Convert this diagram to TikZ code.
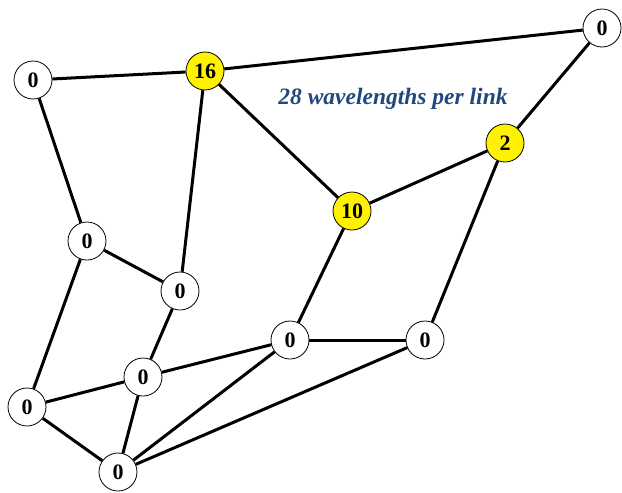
\documentclass[tikz,border=0pt]{standalone}
\usepackage{fontspec}
\setmainfont{Liberation Serif}
\definecolor{labelblue}{RGB}{31,73,125}
\begin{document}
\begin{tikzpicture}[x=1pt,y=-1pt,
  nd/.style={circle,draw=black,line width=0.8pt,fill=white,minimum size=38pt,inner sep=0pt,font=\fontsize{22}{22}\selectfont\bfseries},
  hot/.style={nd,fill=yellow},
  lk/.style={line width=3pt,black},
  lbl/.style={text=labelblue,font=\fontsize{23.5}{24}\selectfont\bfseries\itshape}]
\useasboundingbox (0,0) rectangle (622,493);
\node[nd]  (A) at (33,80) {0};
\node[hot] (B) at (205,71) {16};
\node[nd]  (C) at (602,28) {0};
\node[hot] (D) at (505,143) {2};
\node[hot] (E) at (352,211) {10};
\node[nd]  (F) at (87,241) {0};
\node[nd]  (G) at (180,291) {0};
\node[nd]  (H) at (290,340) {0};
\node[nd]  (I) at (425,340) {0};
\node[nd]  (J) at (143,377) {0};
\node[nd]  (K) at (27,407) {0};
\node[nd]  (L) at (118,472) {0};
\node[lbl] (T) at (393,99) {28 wavelengths per link};
\draw[lk] (A) -- (B);
\draw[lk] (B) -- (C);
\draw[lk] (C) -- (D);
\draw[lk] (D) -- (E);
\draw[lk] (B) -- (E);
\draw[lk] (B) -- (G);
\draw[lk] (A) -- (F);
\draw[lk] (F) -- (G);
\draw[lk] (F) -- (K);
\draw[lk] (G) -- (J);
\draw[lk] (E) -- (H);
\draw[lk] (H) -- (I);
\draw[lk] (D) -- (I);
\draw[lk] (J) -- (H);
\draw[lk] (J) -- (K);
\draw[lk] (K) -- (L);
\draw[lk] (J) -- (L);
\draw[lk] (H) -- (L);
\draw[lk] (I) -- (L);
\end{tikzpicture}
\end{document}
